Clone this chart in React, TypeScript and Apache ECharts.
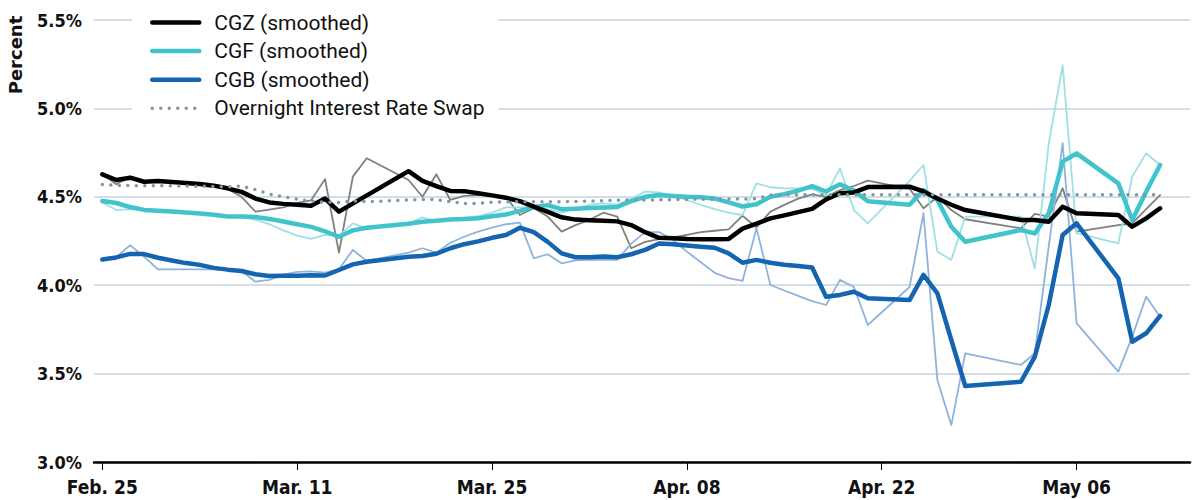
import React, { useEffect, useRef } from "react";
import * as echarts from "echarts";

// ---------- data ----------
const dates: string[] = [
  "2022-02-25","2022-02-26","2022-02-27","2022-02-28","2022-03-01","2022-03-02","2022-03-03","2022-03-04","2022-03-05","2022-03-06",
  "2022-03-07","2022-03-08","2022-03-09","2022-03-10","2022-03-11","2022-03-12","2022-03-13","2022-03-14","2022-03-15","2022-03-16",
  "2022-03-19","2022-03-20","2022-03-21","2022-03-22","2022-03-23","2022-03-24","2022-03-25","2022-03-26","2022-03-27","2022-03-28",
  "2022-03-29","2022-03-30","2022-03-31","2022-04-01","2022-04-02","2022-04-03","2022-04-04","2022-04-05","2022-04-06","2022-04-07",
  "2022-04-08","2022-04-09","2022-04-10","2022-04-11","2022-04-12","2022-04-13","2022-04-14","2022-04-15","2022-04-16","2022-04-17",
  "2022-04-18","2022-04-19","2022-04-20","2022-04-21",
  "2022-04-24","2022-04-25","2022-04-26","2022-04-27","2022-04-28",
  "2022-05-02","2022-05-03","2022-05-04","2022-05-05","2022-05-06",
  "2022-05-09","2022-05-10","2022-05-11","2022-05-12",
];

const cgzSmoothed: (number | null)[] = [
  4.627, 4.595, 4.608, 4.585, 4.590, 4.584, 4.578, 4.573, 4.563, 4.548, 4.528, 4.490, 4.468, 4.460, 4.455, 4.450, 4.490, 4.416, null, null,
  4.645, 4.590, 4.560, 4.533, 4.532, 4.520, 4.508, 4.495, 4.475, 4.445, 4.415, 4.384, 4.371, 4.368, 4.364, 4.361, 4.340, 4.300, 4.268, 4.265,
  4.261, 4.260, 4.260, 4.262, 4.320, 4.348, 4.378, 4.395, 4.413, 4.432, 4.485, 4.520, 4.525, 4.555,
  4.557, 4.530, 4.490, 4.455, 4.425,
  4.369, 4.369, 4.359, 4.444, 4.407,
  4.397, 4.331, 4.378, 4.435,
];
const cgzRaw: (number | null)[] = [
  4.627, 4.571, 4.614, 4.585, 4.590, 4.584, 4.578, 4.570, 4.560, 4.545, 4.500, 4.416, 4.428, 4.440, 4.465, 4.480, 4.600, 4.184, 4.614, 4.718,
  4.595, 4.500, 4.627, 4.482, 4.505, 4.510, 4.510, 4.500, 4.397, 4.435, 4.388, 4.303, 4.340, 4.370, 4.410, 4.388, 4.209, 4.245, 4.260, 4.271,
  4.284, 4.300, 4.308, 4.316, 4.393, 4.327, 4.416, 4.454, 4.490, 4.514, 4.500, 4.538, 4.561, 4.591,
  4.545, 4.435, 4.500, 4.425, 4.373,
  4.322, 4.403, 4.388, 4.548, 4.303,
  4.340, 4.350, 4.430, 4.510,
];
const cgfSmoothed: (number | null)[] = [
  4.476, 4.465, 4.442, 4.426, 4.421, 4.417, 4.411, 4.405, 4.398, 4.388, 4.388, 4.386, 4.375, 4.360, 4.345, 4.330, 4.305, 4.274, 4.310, 4.325,
  4.348, 4.359, 4.365, 4.372, 4.375, 4.378, 4.390, 4.400, 4.420, 4.443, 4.453, 4.430, 4.433, 4.437, 4.440, 4.443, 4.475, 4.500, 4.510, 4.505,
  4.500, 4.497, 4.490, 4.468, 4.445, 4.458, 4.500, 4.515, 4.535, 4.560, 4.530, 4.571, 4.535, 4.475,
  4.455, 4.538, 4.482, 4.331, 4.246,
  4.312, 4.293, 4.407, 4.699, 4.746,
  4.576, 4.369, 4.529, 4.680,
];
const cgfRaw: (number | null)[] = [
  4.467, 4.425, 4.430, 4.425, 4.420, 4.415, 4.410, 4.405, 4.398, 4.388, 4.390, 4.370, 4.345, 4.310, 4.280, 4.262, 4.284, 4.280, 4.350, 4.320,
  4.350, 4.384, 4.360, 4.373, 4.380, 4.391, 4.410, 4.440, 4.440, 4.440, 4.430, 4.410, 4.435, 4.455, 4.463, 4.455, 4.490, 4.529, 4.525, 4.505,
  4.482, 4.455, 4.430, 4.410, 4.397, 4.576, 4.554, 4.548, 4.548, 4.545, 4.510, 4.661, 4.425, 4.350,
  4.590, 4.680, 4.190, 4.143, 4.388,
  4.388, 4.095, 4.800, 5.245, 4.294,
  4.237, 4.614, 4.746, 4.680,
];
const cgbSmoothed: (number | null)[] = [
  4.145, 4.157, 4.177, 4.176, 4.155, 4.140, 4.125, 4.115, 4.098, 4.088, 4.080, 4.062, 4.052, 4.054, 4.054, 4.056, 4.055, 4.086, 4.118, 4.133,
  4.161, 4.165, 4.178, 4.209, 4.232, 4.248, 4.268, 4.284, 4.325, 4.300, 4.245, 4.180, 4.158, 4.158, 4.162, 4.158, 4.175, 4.200, 4.236, 4.232,
  4.225, 4.218, 4.212, 4.180, 4.127, 4.143, 4.127, 4.116, 4.108, 4.100, 3.935, 3.945, 3.963, 3.926,
  3.916, 4.058, 3.954, 3.690, 3.430,
  3.454, 3.596, 3.888, 4.284, 4.350,
  4.039, 3.680, 3.728, 3.826,
];
const cgbRaw: (number | null)[] = [
  4.146, 4.158, 4.227, 4.160, 4.090, 4.090, 4.090, 4.090, 4.090, 4.086, 4.080, 4.020, 4.030, 4.060, 4.075, 4.078, 4.071, 4.090, 4.199, 4.137,
  4.184, 4.209, 4.184, 4.240, 4.274, 4.303, 4.325, 4.345, 4.354, 4.152, 4.175, 4.124, 4.140, 4.143, 4.143, 4.143, 4.235, 4.300, 4.300, 4.256,
  4.190, 4.130, 4.070, 4.040, 4.024, 4.322, 4.001, 3.970, 3.940, 3.910, 3.888, 4.030, 3.990, 3.775,
  3.990, 4.407, 3.464, 3.209, 3.615,
  3.549, 3.615, 4.220, 4.803, 3.785,
  3.511, 3.709, 3.935, 3.822,
];
const oisRate: (number | null)[] = [
  4.570, 4.565, 4.563, 4.562, 4.562, 4.562, 4.561, 4.560, 4.558, 4.556, 4.560, 4.540, 4.515, 4.500, 4.486, 4.475, 4.470, 4.468, 4.478, 4.472,
  4.482, 4.485, 4.484, 4.472, 4.462, 4.463, 4.470, 4.472, 4.472, 4.472, 4.472, 4.472, 4.474, 4.476, 4.478, 4.480, 4.482, 4.482, 4.483, 4.484,
  4.485, 4.486, 4.487, 4.487, 4.487, 4.490, 4.510, 4.512, 4.512, 4.512, 4.512, 4.512, 4.512, 4.512,
  4.512, 4.512, 4.512, 4.512, 4.512,
  4.512, 4.512, 4.512, 4.512, 4.512,
  4.512, 4.512, 4.512, 4.512,
];

const startDate = "2022-02-25";
const tickDates: string[] = ["2022-02-25", "2022-03-11", "2022-03-25", "2022-04-08", "2022-04-22", "2022-05-06"];
const tickLabels: string[] = ["Feb. 25", "Mar. 11", "Mar. 25", "Apr. 08", "Apr. 22", "May 06"];
const axisStart = "2022-02-24T09:36:00";
const axisEnd = "2022-05-14T03:36:00";
const yMin = 3.0;
const yMax = 5.5;
const yStep = 0.5;

const legendNames = ["CGZ (smoothed)", "CGF (smoothed)", "CGB (smoothed)", "Overnight Interest Rate Swap"];

// ---------- chart ----------
const DAY = 86400000;
const t0 = Date.parse(startDate + "T00:00:00Z");
const dayOf = (d: string) => (Date.parse(d.length > 10 ? d + "Z" : d + "T00:00:00Z") - t0) / DAY;

const condensed = '"DejaVu Sans Condensed", "Liberation Sans Narrow", "DejaVu Sans", sans-serif';
const hiddenSymbol = { color: "transparent", borderWidth: 0, opacity: 0 };

export default function App() {
  const ref = useRef<HTMLDivElement>(null);

  useEffect(() => {
    if (!ref.current) return;
    const chart = echarts.init(ref.current, null, { renderer: "svg" });
    const xs = dates.map(dayOf);
    const ticks = tickDates.map(dayOf);
    const toData = (arr: (number | null)[]) =>
      xs.map((x, i) => [x, arr[i]] as [number, number | null]).filter((p) => p[1] !== null);

    const raw = (name: string, arr: (number | null)[], color: string) => ({
      name,
      type: "line",
      data: toData(arr),
      symbol: "none",
      showSymbol: false,
      silent: true,
      z: 1,
      lineStyle: { color, width: 1.8, cap: "round", join: "round" },
    });
    const smooth = (name: string, arr: (number | null)[], color: string) => ({
      name,
      type: "line",
      data: toData(arr),
      symbol: "none",
      showSymbol: false,
      z: 3,
      itemStyle: { color },
      lineStyle: { color, width: 4.5, cap: "round", join: "round" },
    });

    const option: any = {
      animation: false,
      backgroundColor: "#ffffff",
      grid: { left: 94, right: 10, top: 20, bottom: 38, containLabel: false },
      xAxis: {
        type: "value",
        min: dayOf(axisStart),
        max: dayOf(axisEnd),
        axisLine: { show: true, lineStyle: { color: "#000", width: 2.5 } },
        axisTick: { show: true, customValues: ticks, length: 8, lineStyle: { color: "#000", width: 1 } },
        axisLabel: {
          customValues: ticks,
          formatter: (v: number) => {
            const i = ticks.findIndex((t) => Math.abs(t - v) < 0.01);
            return i >= 0 ? tickLabels[i] : "";
          },
          fontFamily: condensed,
          fontWeight: "bold",
          fontSize: 19,
          color: "#111",
          margin: 15,
        },
        splitLine: { show: false },
      },
      yAxis: {
        type: "value",
        min: yMin,
        max: yMax,
        interval: yStep,
        axisLine: { show: false },
        axisTick: { show: false },
        axisLabel: {
          formatter: (v: number) => v.toFixed(1) + "%",
          fontFamily: condensed,
          fontWeight: "bold",
          fontSize: 18,
          color: "#111",
          margin: 12,
        },
        splitLine: { show: true, lineStyle: { color: "#c9d3dc", width: 1.6 } },
      },
      legend: {
        data: [
          { name: legendNames[0], itemStyle: hiddenSymbol, lineStyle: { width: 4.5, cap: "round" } },
          { name: legendNames[1], itemStyle: hiddenSymbol, lineStyle: { width: 4.5, cap: "round" } },
          { name: legendNames[2], itemStyle: hiddenSymbol, lineStyle: { width: 4.5, cap: "round" } },
          { name: legendNames[3], itemStyle: hiddenSymbol, lineStyle: { width: 3.5, cap: "round", type: [0, 8.5] } },
        ],
        orient: "vertical",
        left: 132,
        top: 2,
        padding: [10, 14, 8, 18],
        backgroundColor: "#ffffff",
        itemWidth: 47,
        itemHeight: 20,
        itemGap: 7.6,
        selectedMode: false,
        textStyle: {
          fontFamily: "Roboto, sans-serif",
          fontSize: 21,
          lineHeight: 20,
          color: "#111",
          padding: [0, 0, 0, 10],
        },
      },
      graphic: [
        {
          type: "text",
          x: 15,
          y: 55,
          rotation: Math.PI / 2,
          style: {
            text: "Percent",
            fontFamily: '"DejaVu Sans", sans-serif',
            fontWeight: "bold",
            fontSize: 18,
            fill: "#111",
            align: "center",
            verticalAlign: "middle",
          },
        },
      ],
      series: [
        raw("CGZ", cgzRaw, "#808080"),
        raw("CGF", cgfRaw, "#9fe0e5"),
        raw("CGB", cgbRaw, "#8fb4dc"),
        smooth(legendNames[2], cgbSmoothed, "#1464b0"),
        smooth(legendNames[1], cgfSmoothed, "#40c3cb"),
        smooth(legendNames[0], cgzSmoothed, "#000000"),
        {
          name: legendNames[3],
          type: "line",
          data: toData(oisRate),
          symbol: "none",
          showSymbol: false,
          z: 4,
          itemStyle: { color: "#7f97a3" },
          lineStyle: { color: "#7f97a3", width: 3.5, type: [0, 8.5], cap: "round" },
        },
      ],
    };
    chart.setOption(option);
    return () => chart.dispose();
  }, []);

  return (
    <div
      ref={ref}
      style={{ position: "absolute", left: 0, top: 0, width: 1200, height: 500, background: "#fff" }}
    />
  );
}
